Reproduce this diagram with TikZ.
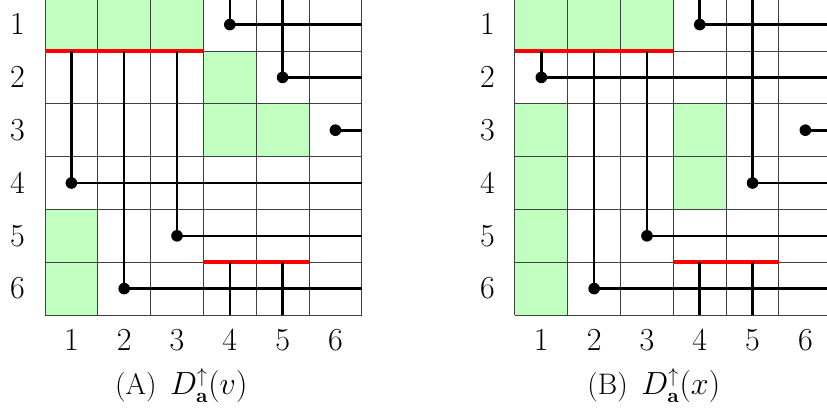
\documentclass[tikz,border=0pt]{standalone}
\usepackage[svgnames]{xcolor}
\usepackage{tikz}
\definecolor{cellfill}{RGB}{192,255,192}
\colorlet{cut}{red}
\tikzset{
  gridline/.style={draw=black!75,line width=0.5pt},
  wire/.style={draw=black,line width=1.4pt},
  cutline/.style={draw=cut,line width=2.2pt},
  wiredot/.style={fill=black},
  lab/.style={font=\fontsize{16}{19}\selectfont}
}

\begin{document}
\begin{tikzpicture}
\useasboundingbox (-0.852,-1.894) rectangle (14.81,5.966);
% (A)
\begin{scope}
\foreach \c/\r in {1/1,2/1,3/1,4/2,4/3,5/3,1/5,1/6}
  \fill[cellfill] (\c-1,6-\r) rectangle (\c,7-\r);
\draw[gridline] (0,0) grid (6,6);
\draw[cutline] (0,5) -- (3,5);
\draw[cutline] (3,1) -- (5,1);
\foreach \c/\t/\r in {1/5/4,2/5/6,3/5/5,4/6/1,5/6/2,6/3.5/3}{
  \draw[wire] (\c-0.5,\t) -- (\c-0.5,6.5-\r) -- (6,6.5-\r);
  \fill[wiredot] (\c-0.5,6.5-\r) circle (0.11);
}
\draw[wire] (3.5,1) -- (3.5,0);
\draw[wire] (4.5,1) -- (4.5,0);
\foreach \i in {1,...,6}{
  \node[lab] (rowA\i) at (-0.52,6.5-\i) {$\i$};
  \node[lab] (colA\i) at (\i-0.5,-0.47) {$\i$};
}
\node[lab] (capA) at (2.58,-1.33) {(A)\hspace{0.45em}$D^{\uparrow}_{\mathbf{a}}(v)$};
\end{scope}
% (B)
\begin{scope}[xshift=8.9cm]
\foreach \c/\r in {1/1,2/1,3/1,1/3,4/3,1/4,4/4,1/5,1/6}
  \fill[cellfill] (\c-1,6-\r) rectangle (\c,7-\r);
\draw[gridline] (0,0) grid (6,6);
\draw[cutline] (0,5) -- (3,5);
\draw[cutline] (3,1) -- (5,1);
\foreach \c/\t/\r in {1/5/2,2/5/6,3/5/5,4/6/1,5/6/4,6/3.5/3}{
  \draw[wire] (\c-0.5,\t) -- (\c-0.5,6.5-\r) -- (6,6.5-\r);
  \fill[wiredot] (\c-0.5,6.5-\r) circle (0.11);
}
\draw[wire] (3.5,1) -- (3.5,0);
\draw[wire] (4.5,1) -- (4.5,0);
\foreach \i in {1,...,6}{
  \node[lab] (rowB\i) at (-0.52,6.5-\i) {$\i$};
  \node[lab] (colB\i) at (\i-0.5,-0.47) {$\i$};
}
\node[lab] (capB) at (2.63,-1.33) {(B)\hspace{0.45em}$D^{\uparrow}_{\mathbf{a}}(x)$};
\end{scope}
\end{tikzpicture}
\end{document}
